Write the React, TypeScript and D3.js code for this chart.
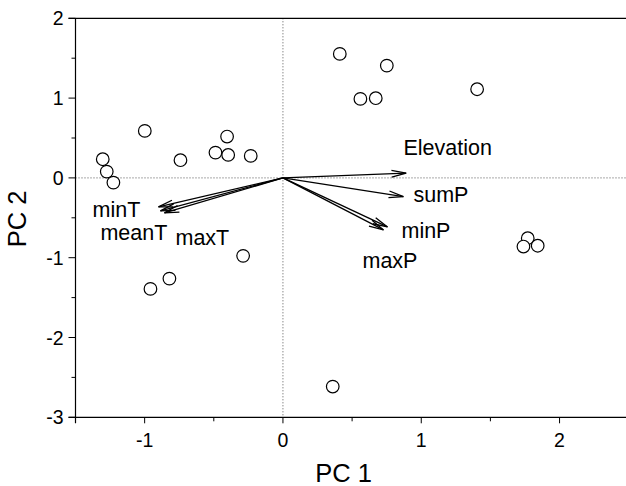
import React from "react";
import * as d3 from "d3";

// Site scores (PC1, PC2)
const pc1Scores = [-1.303, -1.274, -1.226, -0.999, -0.741, -0.488, -0.404, -0.396, -0.233, 0.411, 0.751, 0.560, 0.671, 1.404, 1.770, 1.739, 1.842, -0.958, -0.821, -0.288, 0.360];
const pc2Scores = [0.234, 0.079, -0.059, 0.589, 0.222, 0.317, 0.518, 0.288, 0.276, 1.554, 1.407, 0.990, 0.999, 1.111, -0.756, -0.860, -0.850, -1.391, -1.262, -0.977, -2.615];

// Variable loadings
const varNames = ["Elevation", "sumP", "minP", "maxP", "minT", "meanT", "maxT"];
const varPC1 = [0.891, 0.871, 0.756, 0.727, -0.900, -0.886, -0.857];
const varPC2 = [0.059, -0.234, -0.614, -0.652, -0.363, -0.414, -0.439];
// label anchor (data units, start of text baseline)
const labelPC1 = [0.871, 0.944, 0.857, 0.575, -1.377, -1.320, -0.777];
const labelPC2 = [0.288, -0.300, -0.750, -1.128, -0.489, -0.777, -0.840];

const xMajor = [-1, 0, 1, 2];
const xMinor = [-1.5, -0.5, 0.5, 1.5, 2.5];
const yMajor = [-3, -2, -1, 0, 1, 2];
const yMinor = [-2.5, -1.5, -0.5, 0.5, 1.5];

const W = 626, H = 486;
const FONT = "Arial, 'Liberation Sans', Helvetica, sans-serif";

export default function App() {
  const x = d3.scaleLinear().domain([-1.5, 2.5]).range([75.5, 628.7]);
  const y = d3.scaleLinear().domain([-3, 2]).range([417.3, 18.3]);
  const x0 = x(0), y0 = y(0);
  const headLen = 15, headAng = (13 * Math.PI) / 180;

  return (
    <svg width={W} height={H} style={{ position: "absolute", left: 0, top: 0, background: "#fff" }} fontFamily={FONT}>
      <rect width={W} height={H} fill="#fff" />
      {/* reference lines */}
      <line x1={x0} x2={x0} y1={y(2)} y2={y(-3)} stroke="#555" strokeWidth={1} strokeDasharray="1,2" />
      <line x1={x(-1.5)} x2={x(2.5)} y1={y0} y2={y0} stroke="#555" strokeWidth={1} strokeDasharray="1,2" />
      {/* frame */}
      <line x1={x(-1.5) - 7} x2={x(2.5)} y1={y(2)} y2={y(2)} stroke="#000" strokeWidth={1.2} />
      <line x1={x(-1.5) - 7} x2={x(2.5)} y1={y(-3)} y2={y(-3)} stroke="#000" strokeWidth={1.2} />
      <line x1={x(-1.5)} x2={x(-1.5)} y1={y(2)} y2={y(-3) + 6} stroke="#000" strokeWidth={1.2} />
      <line x1={x(2.5)} x2={x(2.5)} y1={y(2)} y2={y(-3)} stroke="#000" strokeWidth={1.2} />
      {/* y ticks */}
      {yMajor.map((v) => (
        <g key={"ym" + v}>
          <line x1={x(-1.5) - 7} x2={x(-1.5)} y1={y(v)} y2={y(v)} stroke="#000" strokeWidth={1} />
          <text x={x(-1.5) - 12} y={y(v)} dy="0.36em" textAnchor="end" fontSize={19.5} fill="#000">
            {v}
          </text>
        </g>
      ))}
      {yMinor.map((v) => (
        <line key={"yn" + v} x1={x(-1.5) - 4} x2={x(-1.5)} y1={y(v)} y2={y(v)} stroke="#000" strokeWidth={1} />
      ))}
      {/* x ticks */}
      {xMajor.map((v) => (
        <g key={"xm" + v}>
          <line x1={x(v)} x2={x(v)} y1={y(-3)} y2={y(-3) + 6} stroke="#000" strokeWidth={1} />
          <text x={x(v)} y={447} textAnchor="middle" fontSize={19.5} fill="#000">
            {v}
          </text>
        </g>
      ))}
      {xMinor.map((v) => (
        <line key={"xn" + v} x1={x(v)} x2={x(v)} y1={y(-3)} y2={y(-3) + 4} stroke="#000" strokeWidth={1} />
      ))}
      {/* axis titles */}
      <text x={343.5} y={482} textAnchor="middle" fontSize={25.5} fill="#000">PC 1</text>
      <text transform={`translate(26,219) rotate(-90)`} textAnchor="middle" fontSize={25.5} fill="#000">PC 2</text>
      {/* points */}
      {pc1Scores.map((v, i) => (
        <circle key={"p" + i} cx={x(v)} cy={y(pc2Scores[i])} r={6.3} fill="#fff" stroke="#000" strokeWidth={1.2} />
      ))}
      {/* arrows */}
      {varNames.map((n, i) => {
        const tx = x(varPC1[i]), ty = y(varPC2[i]);
        const a = Math.atan2(ty - y0, tx - x0);
        const h1x = tx - headLen * Math.cos(a - headAng), h1y = ty - headLen * Math.sin(a - headAng);
        const h2x = tx - headLen * Math.cos(a + headAng), h2y = ty - headLen * Math.sin(a + headAng);
        return (
          <g key={"a" + n}>
            <line x1={x0} y1={y0} x2={tx} y2={ty} stroke="#000" strokeWidth={1.3} />
            <path d={`M${h1x},${h1y}L${tx},${ty}L${h2x},${h2y}`} fill="none" stroke="#000" strokeWidth={1.3} />
            <text x={x(labelPC1[i])} y={y(labelPC2[i])} fontSize={21.5} fill="#000">{n}</text>
          </g>
        );
      })}
    </svg>
  );
}
